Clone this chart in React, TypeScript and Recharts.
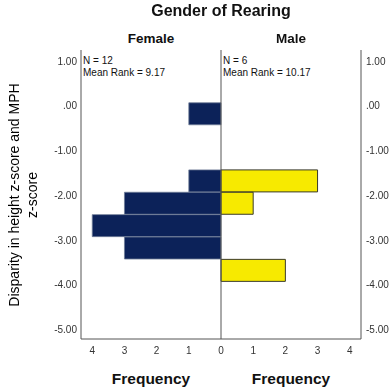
import { BarChart, Bar, XAxis, YAxis, ReferenceLine } from "recharts";

const binMids = [-0.25, -0.75, -1.25, -1.75, -2.25, -2.75, -3.25, -3.75];
const femaleCounts = [1, 0, 0, 1, 3, 4, 3, 0];
const maleCounts = [0, 0, 0, 3, 1, 0, 0, 2];
const yTicks = [1, 0, -1, -2, -3, -4, -5];
const xTicks = [-4, -3, -2, -1, 0, 1, 2, 3, 4];
const groups = [
  { name: "Female", n: 12, meanRank: "9.17" },
  { name: "Male", n: 6, meanRank: "10.17" },
];

// female drawn to the left as negative counts
const data = binMids.map((mid, i) => ({
  mid,
  female: -femaleCounts[i],
  male: maleCounts[i],
}));

const font = "'Liberation Sans', Arial, sans-serif";
const fmtY = (v: number) => (v === 0 ? ".00" : v.toFixed(2));
const tick = { fill: "#333", fontSize: 10, fontFamily: font };
const yTick = { ...tick, dy: 3 };

export default function App() {
  return (
    <div
      style={{
        position: "fixed",
        left: 0,
        top: 0,
        width: 392,
        height: 392,
        background: "#fff",
        fontFamily: font,
        color: "#111",
      }}
    >
      <div style={{ position: "absolute", left: 0, width: 442, top: 2, textAlign: "center", fontSize: 16, fontWeight: "bold" }}>
        Gender of Rearing
      </div>
      {groups.map((g, i) => (
        <div key={g.name}>
          <div
            style={{ position: "absolute", left: 81 + i * 140, width: 140, top: 31, textAlign: "center", fontSize: 13.5, fontWeight: "bold" }}
          >
            {g.name}
          </div>
          <div style={{ position: "absolute", left: 83 + i * 140, top: 55, fontSize: 10, lineHeight: "12px" }}>
            N = {g.n}
            <br />
            Mean Rank = {g.meanRank}
          </div>
          <div
            style={{ position: "absolute", left: 81 + i * 140, width: 140, top: 370, textAlign: "center", fontSize: 15.5, fontWeight: "bold" }}
          >
            Frequency
          </div>
        </div>
      ))}
      <div
        style={{
          position: "absolute",
          left: 23,
          top: 195,
          width: 300,
          transform: "translate(-50%, -50%) rotate(-90deg)",
          textAlign: "center",
          fontSize: 14,
          lineHeight: "18px",
          color: "#000",
        }}
      >
        Disparity in height z-score and MPH
        <br />
        z-score
      </div>
      <BarChart
        width={392}
        height={392}
        data={data}
        layout="vertical"
        stackOffset="sign"
        barCategoryGap={0}
        margin={{ top: 50, right: 0, bottom: 33, left: 41 }}
      >
        <XAxis
          type="number"
          domain={[-4.35, 4.35]}
          ticks={xTicks}
          tickFormatter={(v: number) => String(Math.abs(v))}
          tick={tick}
          tickLine={false}
          axisLine={{ stroke: "#555" }}
          height={20}
          allowDataOverflow
        />
        <YAxis
          yAxisId="l"
          type="number"
          dataKey="mid"
          reversed
          domain={[-5.28, 1.18]}
          ticks={yTicks}
          tickFormatter={fmtY}
          tick={yTick}
          tickLine={false}
          tickSize={2}
          tickMargin={2}
          axisLine={{ stroke: "#555" }}
          width={40}
          allowDataOverflow
        />
        <YAxis
          yAxisId="r"
          orientation="right"
          type="number"
          dataKey="mid"
          reversed
          domain={[-5.28, 1.18]}
          ticks={yTicks}
          tickFormatter={fmtY}
          tick={yTick}
          tickLine={false}
          tickSize={2}
          tickMargin={3}
          axisLine={{ stroke: "#555" }}
          width={31}
          allowDataOverflow
        />
        <ReferenceLine yAxisId="l" x={0} stroke="#555" />
        <Bar yAxisId="l" dataKey="female" stackId="s" fill="#0c2259" stroke="#6d7b96" strokeWidth={0.8} isAnimationActive={false} />
        <Bar yAxisId="l" dataKey="male" stackId="s" fill="#f7ea00" stroke="#3a3a2a" strokeWidth={1} isAnimationActive={false} />
      </BarChart>
    </div>
  );
}
